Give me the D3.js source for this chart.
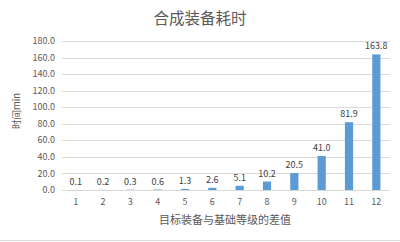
<!DOCTYPE html>
<html><head><meta charset="utf-8">
<script src="https://cdn.jsdelivr.net/npm/d3@7"></script>
<style>body{margin:0;background:#fff}svg{display:block}</style>
</head><body>
<script>
const categories = ["1","2","3","4","5","6","7","8","9","10","11","12"];
const values = [0.1,0.2,0.3,0.6,1.3,2.6,5.1,10.2,20.5,41.0,81.9,163.8];
const yTicks = [0,20,40,60,80,100,120,140,160,180];
const title = "合成装备耗时";
const xTitle = "目标装备与基础等级的差值";
const yTitle = "时间min";

(function(){
const W = 400, H = 242;
const svg = d3.select("body").append("svg").attr("width", W).attr("height", H);
svg.append("line").attr("x1",0).attr("x2",W).attr("y1",240.5).attr("y2",240.5).attr("stroke","#d9d9d9");
const font = "'Microsoft YaHei','Noto Sans CJK SC',sans-serif";
const pl = 62, pr = 390, pt = 41, pb = 190;
const x = d3.scaleBand().domain(categories).range([pl, pr]).paddingInner(0.7).paddingOuter(0.35);
const y = d3.scaleLinear().domain([0,180]).range([pb, pt]);

svg.append("g").selectAll("line").data(yTicks).join("line")
  .attr("x1", pl).attr("x2", pr)
  .attr("y1", d => Math.round(y(d))+0.5).attr("y2", d => Math.round(y(d))+0.5)
  .attr("stroke", "#d9d9d9").attr("stroke-width", 1);

svg.append("g").selectAll("text").data(yTicks).join("text")
  .attr("x", pl - 7).attr("y", d => y(d)).attr("dy","0.35em")
  .attr("text-anchor","end").attr("font-family", font).attr("font-size", 9).attr("fill","#595959")
  .text(d => d.toFixed(1));

svg.append("g").selectAll("rect").data(values).join("rect")
  .attr("x", (d,i) => x(categories[i])).attr("width", x.bandwidth())
  .attr("y", d => y(d)).attr("height", d => pb - y(d))
  .attr("fill", "#5B9BD5");

svg.append("g").selectAll("text").data(values).join("text")
  .attr("x", (d,i) => x(categories[i]) + x.bandwidth()/2).attr("y", d => y(d) - 5)
  .attr("text-anchor","middle").attr("font-family", font).attr("font-size", 9).attr("fill","#404040")
  .text(d => d.toFixed(1));

svg.append("g").selectAll("text").data(categories).join("text")
  .attr("x", d => x(d) + x.bandwidth()/2).attr("y", pb + 15)
  .attr("text-anchor","middle").attr("font-family", font).attr("font-size", 9).attr("fill","#595959")
  .text(d => d);

svg.append("text").attr("x", 200).attr("y", 24).attr("text-anchor","middle")
  .attr("font-family", font).attr("font-size", 15.5).attr("fill","#595959").text(title);

svg.append("text").attr("x", 225).attr("y", 224).attr("text-anchor","middle")
  .attr("font-family", font).attr("font-size", 11).attr("fill","#595959").text(xTitle);

svg.append("text").attr("transform","translate(20,111) rotate(-90)").attr("text-anchor","middle")
  .attr("font-family", font).attr("font-size", 9.5).attr("fill","#595959").text(yTitle);
})();
</script>
</body></html>
